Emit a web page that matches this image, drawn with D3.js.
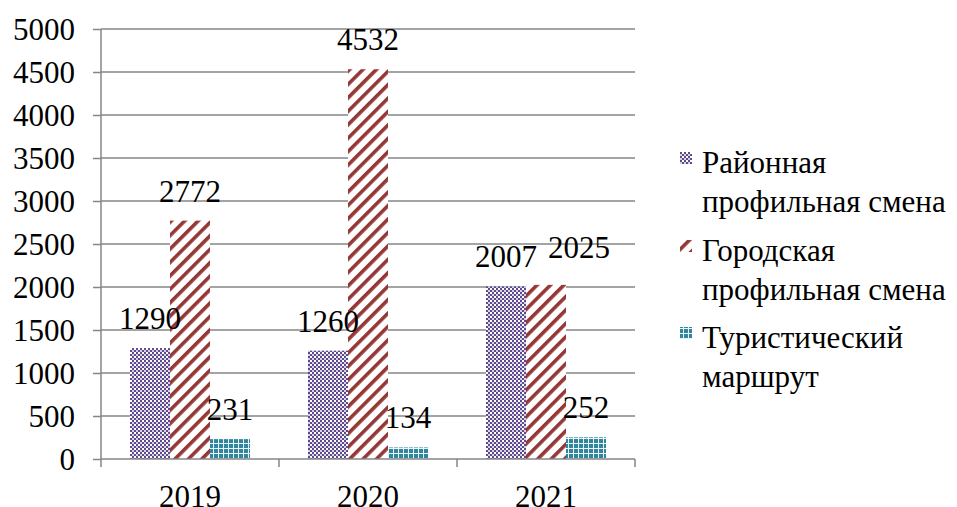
<!DOCTYPE html>
<html><head><meta charset="utf-8">
<script src="https://cdn.jsdelivr.net/npm/d3@7"></script>
</head><body style="margin:0;background:#fff"><svg id="c" width="957" height="507" style="display:block"></svg>
<script>
const categories = ["2019", "2020", "2021"];
const seriesNames = ["Районная профильная смена", "Городская профильная смена", "Туристический маршрут"];
const rayonValues = [1290, 1260, 2007];
const gorodValues = [2772, 4532, 2025];
const turValues = [231, 134, 252];
const yTicks = [0, 500, 1000, 1500, 2000, 2500, 3000, 3500, 4000, 4500, 5000];
const legendLines = [["Районная", "профильная смена"], ["Городская", "профильная смена"], ["Туристический", "маршрут"]];

const series = [rayonValues, gorodValues, turValues];
const svg = d3.select("#c");
const m = {l: 101, r: 635, t: 29, b: 459};
const grid = "#868686";
const FS = "31px";
const FF = "Tinos, 'Liberation Serif', 'Times New Roman', serif";
const styleText = sel => sel.style("font-family", FF).style("font-size", FS).style("fill", "#000");

// patterns
const defs = svg.append("defs");
const p1 = defs.append("pattern").attr("id", "p0").attr("patternUnits", "userSpaceOnUse").attr("width", 4).attr("height", 4);
p1.append("rect").attr("width", 4).attr("height", 4).attr("fill", "#d8d0e6");
p1.append("rect").attr("width", 2).attr("height", 2).attr("fill", "#5f4a8c");
p1.append("rect").attr("x", 2).attr("y", 2).attr("width", 2).attr("height", 2).attr("fill", "#5f4a8c");
p1.append("rect").attr("x", 2).attr("y", 0).attr("width", 2).attr("height", 2).attr("fill", "#ffffff");
const p2 = defs.append("pattern").attr("id", "p1").attr("patternUnits", "userSpaceOnUse").attr("width", 9.5).attr("height", 9.5).attr("patternTransform", "rotate(45)");
p2.append("rect").attr("width", 9.5).attr("height", 9.5).attr("fill", "#fff");
p2.append("rect").attr("width", 3.6).attr("height", 9.5).attr("fill", "#953735");
const p3 = defs.append("pattern").attr("id", "p2").attr("patternUnits", "userSpaceOnUse").attr("width", 5).attr("height", 5);
p3.append("rect").attr("width", 5).attr("height", 5).attr("fill", "#31859c");
p3.append("rect").attr("x", 3).attr("width", 1).attr("height", 5).attr("fill", "#e8f4f6");
p3.append("rect").attr("y", 3).attr("width", 5).attr("height", 1).attr("fill", "#e8f4f6");
const fills = ["url(#p0)", "url(#p1)", "url(#p2)"];

const x0 = d3.scaleBand().domain(categories).range([m.l, m.r]).padding(0);
const x1 = d3.scaleBand().domain([0, 1, 2]).range([29, x0.bandwidth() - 29]).padding(0);
const y = d3.scaleLinear().domain([0, 5000]).range([m.b, m.t]);

// gridlines
svg.append("g").selectAll("line").data(yTicks.filter(d => d > 0)).join("line")
  .attr("x1", m.l).attr("x2", m.r).attr("y1", d => y(d)).attr("y2", d => y(d))
  .attr("stroke", grid).attr("stroke-width", 1.5);

// bars
const groups = svg.append("g").selectAll("g").data(series).join("g").attr("fill", (d, i) => fills[i]);
groups.each(function(vals, si) {
  d3.select(this).selectAll("rect").data(vals).join("rect")
    .attr("x", (v, ci) => x0(categories[ci]) + x1(si))
    .attr("width", x1.bandwidth())
    .attr("y", v => y(v))
    .attr("height", v => m.b - y(v));
});

// y axis
const yAxis = svg.append("g").attr("transform", `translate(${m.l},0)`)
  .call(d3.axisLeft(y).tickValues(yTicks).tickSize(8).tickPadding(18).tickFormat(d3.format("d")));
yAxis.attr("font-family", null).attr("font-size", null);
yAxis.select(".domain").attr("stroke", grid).attr("stroke-width", 1.5).attr("d", `M-0,${m.t}V${m.b}`);
yAxis.selectAll(".tick line").attr("stroke", grid).attr("stroke-width", 1.5);
yAxis.selectAll(".tick text").call(styleText).attr("dy", "0.35em");

// x axis
const xAxis = svg.append("g").attr("transform", `translate(0,${m.b})`)
  .call(d3.axisBottom(x0).tickSize(0).tickPadding(26));
xAxis.attr("font-family", null).attr("font-size", null);
xAxis.select(".domain").attr("stroke", grid).attr("stroke-width", 1.5).attr("d", `M${m.l},0H${m.r}`);
xAxis.selectAll(".tick text").call(styleText);
svg.append("g").selectAll("line").data(categories.concat(["end"])).join("line")
  .attr("x1", (d, i) => m.l + i * x0.bandwidth()).attr("x2", (d, i) => m.l + i * x0.bandwidth())
  .attr("y1", m.b).attr("y2", m.b + 8).attr("stroke", grid).attr("stroke-width", 1.5);

// value labels
const labelShift = {"1-2": [33, -8]};
series.forEach((vals, si) => {
  vals.forEach((v, ci) => {
    const s = labelShift[si + "-" + ci] || [0, 0];
    svg.append("text")
      .attr("x", x0(categories[ci]) + x1(si) + x1.bandwidth() / 2 + s[0])
      .attr("y", y(v) - 19 + s[1])
      .attr("text-anchor", "middle")
      .call(styleText)
      .text(v);
  });
});

// legend
const leg = svg.append("g");
const legMid = [158, 246, 333];
seriesNames.forEach((n, i) => {
  leg.append("rect").attr("x", 680).attr("y", legMid[i] - 6).attr("width", 12).attr("height", 12).attr("fill", fills[i]);
  legendLines[i].forEach((t, j) => {
    leg.append("text").attr("x", 702).attr("y", legMid[i] + 15 + j * 39).call(styleText).text(t);
  });
});
</script></body></html>
